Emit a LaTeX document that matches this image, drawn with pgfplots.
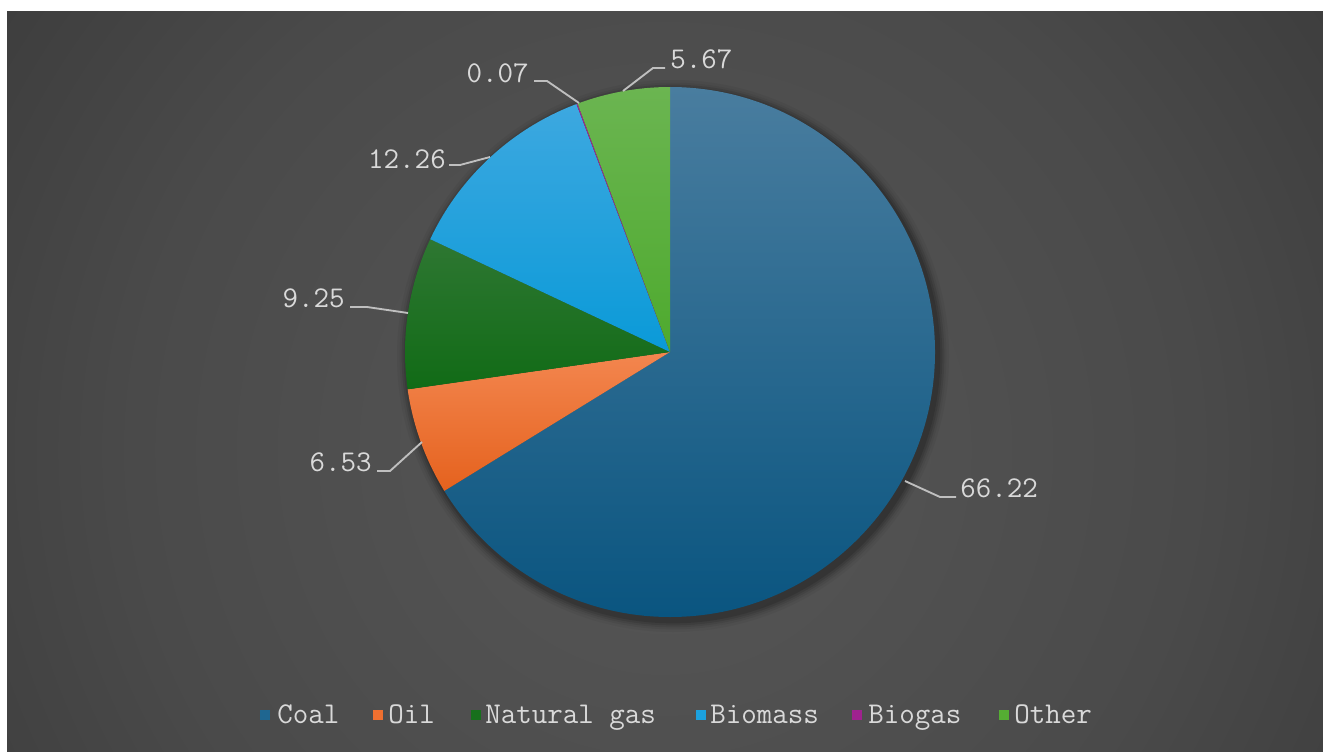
\documentclass[border=0pt]{standalone}
\usepackage{pgfplots}
\pgfplotsset{compat=1.18}
\usepackage{pgfplotstable}
\usepackage{fontspec}

\definecolor{bg0}{HTML}{575757}
\definecolor{bg1}{HTML}{4A4A4A}
\definecolor{bg2}{HTML}{3A3A3A}
\definecolor{bg3}{HTML}{2A2A2A}
\definecolor{bg4}{HTML}{242424}
\definecolor{txt}{HTML}{D9D9D9}
\definecolor{lead}{HTML}{BFBFBF}

\definecolor{coalT}{HTML}{497D9F}
\definecolor{coalB}{HTML}{0A5580}
\definecolor{oilT}{HTML}{F3864F}
\definecolor{oilB}{HTML}{E5621E}
\definecolor{gasT}{HTML}{2E7732}
\definecolor{gasB}{HTML}{116B16}
\definecolor{bioT}{HTML}{3DA8E0}
\definecolor{bioB}{HTML}{0A9AD8}
\definecolor{biogas}{HTML}{A0228F}
\definecolor{othT}{HTML}{6BB551}
\definecolor{othB}{HTML}{4EAA2E}

\definecolor{coal}{HTML}{1F6690}
\definecolor{oil}{HTML}{F07030}
\definecolor{gas}{HTML}{17701C}
\definecolor{bio}{HTML}{1BA1DE}
\definecolor{oth}{HTML}{55AD33}

\pgfdeclareradialshading{bgshade}{\pgfpoint{0bp}{0bp}}{color(0bp)=(bg0); color(15.6bp)=(bg1); color(25.9bp)=(bg2); color(38.7bp)=(bg3); color(46bp)=(bg4); color(50bp)=(bg4)}

\pgfplotstableread{
label value
Coal 66.22
Oil 6.53
Gas 9.25
Biomass 12.26
Biogas 0.07
Other 5.67
}\pietable

\def\R{198.75pt}
\newcommand\sector[4]{\shade[top color=#3, bottom color=#4] (axis cs:670,399) -- ++(#1:\R) arc[start angle=#1, end angle=#2, radius=\R] -- cycle;}
\newcommand\lfont{\ttfamily\fontsize{22.6}{27}\selectfont}

\begin{document}
\begin{tikzpicture}
\pgfplotstablegetelem{0}{value}\of\pietable \let\vA\pgfplotsretval
\pgfplotstablegetelem{1}{value}\of\pietable \let\vB\pgfplotsretval
\pgfplotstablegetelem{2}{value}\of\pietable \let\vC\pgfplotsretval
\pgfplotstablegetelem{3}{value}\of\pietable \let\vD\pgfplotsretval
\pgfplotstablegetelem{4}{value}\of\pietable \let\vE\pgfplotsretval
\pgfplotstablegetelem{5}{value}\of\pietable \let\vF\pgfplotsretval
\pgfmathsetmacro\aA{90}
\pgfmathsetmacro\aB{\aA-3.6*\vA}
\pgfmathsetmacro\aC{\aB-3.6*\vB}
\pgfmathsetmacro\aD{\aC-3.6*\vC}
\pgfmathsetmacro\aE{\aD-3.6*\vD}
\pgfmathsetmacro\aF{\aE-3.6*\vE}
\pgfmathsetmacro\aG{\aF-3.6*\vF}
\begin{axis}[
  at={(0,0)}, anchor=south west,
  width=992.25pt, height=563.25pt, scale only axis,
  xmin=0, xmax=1323, ymin=0, ymax=751,
  enlargelimits=false, hide axis, clip=false,
]
\fill[white] (axis cs:0,0) rectangle (axis cs:1323,751);
\begin{scope}
\clip (axis cs:7,0) rectangle (axis cs:1323,739);
\shade[shading=bgshade] (axis cs:-185,-549) rectangle (axis cs:1515,1151);
\end{scope}
% shadow
\fill[black, opacity=0.10] (axis cs:673,395) circle[radius=200.5pt];
\fill[black, opacity=0.10] (axis cs:673,395) circle[radius=202pt];
\fill[black, opacity=0.08] (axis cs:673,395) circle[radius=203.5pt];
\fill[black, opacity=0.06] (axis cs:673,395) circle[radius=205pt];
\fill[black, opacity=0.04] (axis cs:673,395) circle[radius=207pt];
% slices
\sector{\aA}{\aB}{coalT}{coalB}
\sector{\aB}{\aC}{oilT}{oilB}
\sector{\aC}{\aD}{gasT}{gasB}
\sector{\aD}{\aE}{bioT}{bioB}
\sector{\aE}{\aF}{biogas}{biogas}
\sector{\aF}{\aG}{othT}{othB}
% leader lines
\draw[lead, line width=1.4pt] (axis cs:905,270) -- (axis cs:940,254) -- (axis cs:956,254);
\draw[lead, line width=1.4pt] (axis cs:422,309) -- (axis cs:390,280) -- (axis cs:377,280);
\draw[lead, line width=1.4pt] (axis cs:408,438) -- (axis cs:367,444) -- (axis cs:350,444);
\draw[lead, line width=1.4pt] (axis cs:490,594) -- (axis cs:460,586) -- (axis cs:449,586);
\draw[lead, line width=1.4pt] (axis cs:579,648) -- (axis cs:547,670) -- (axis cs:534,670);
\draw[lead, line width=1.4pt] (axis cs:623,660) -- (axis cs:653,683) -- (axis cs:665,683);
% labels
\node[anchor=base west, inner sep=0pt, text=txt, font=\lfont] at (axis cs:960,253.5) {66.22};
\node[anchor=base east, inner sep=0pt, text=txt, font=\lfont] at (axis cs:372,279.5) {6.53};
\node[anchor=base east, inner sep=0pt, text=txt, font=\lfont] at (axis cs:345,443.5) {9.25};
\node[anchor=base east, inner sep=0pt, text=txt, font=\lfont] at (axis cs:446,582.5) {12.26};
\node[anchor=base east, inner sep=0pt, text=txt, font=\lfont] at (axis cs:529,668.5) {0.07};
\node[anchor=base west, inner sep=0pt, text=txt, font=\lfont] at (axis cs:670,682.5) {5.67};
% legend
\fill[coal] (axis cs:260,31) rectangle (axis cs:270,41);
\fill[oil] (axis cs:373,31) rectangle (axis cs:383,41);
\fill[gas] (axis cs:471,31) rectangle (axis cs:481,41);
\fill[bio] (axis cs:696,31) rectangle (axis cs:706,41);
\fill[biogas] (axis cs:852,31) rectangle (axis cs:862,41);
\fill[oth] (axis cs:999,31) rectangle (axis cs:1009,41);
\node[anchor=base west, inner sep=0pt, text=txt, font=\lfont] at (axis cs:277,27.5) {Coal};
\node[anchor=base west, inner sep=0pt, text=txt, font=\lfont] at (axis cs:388,27.5) {Oil};
\node[anchor=base west, inner sep=0pt, text=txt, font=\lfont] at (axis cs:485,27.5) {Natural gas};
\node[anchor=base west, inner sep=0pt, text=txt, font=\lfont] at (axis cs:710,27.5) {Biomass};
\node[anchor=base west, inner sep=0pt, text=txt, font=\lfont] at (axis cs:868,27.5) {Biogas};
\node[anchor=base west, inner sep=0pt, text=txt, font=\lfont] at (axis cs:1014,27.5) {Other};
\end{axis}
\end{tikzpicture}
\end{document}
